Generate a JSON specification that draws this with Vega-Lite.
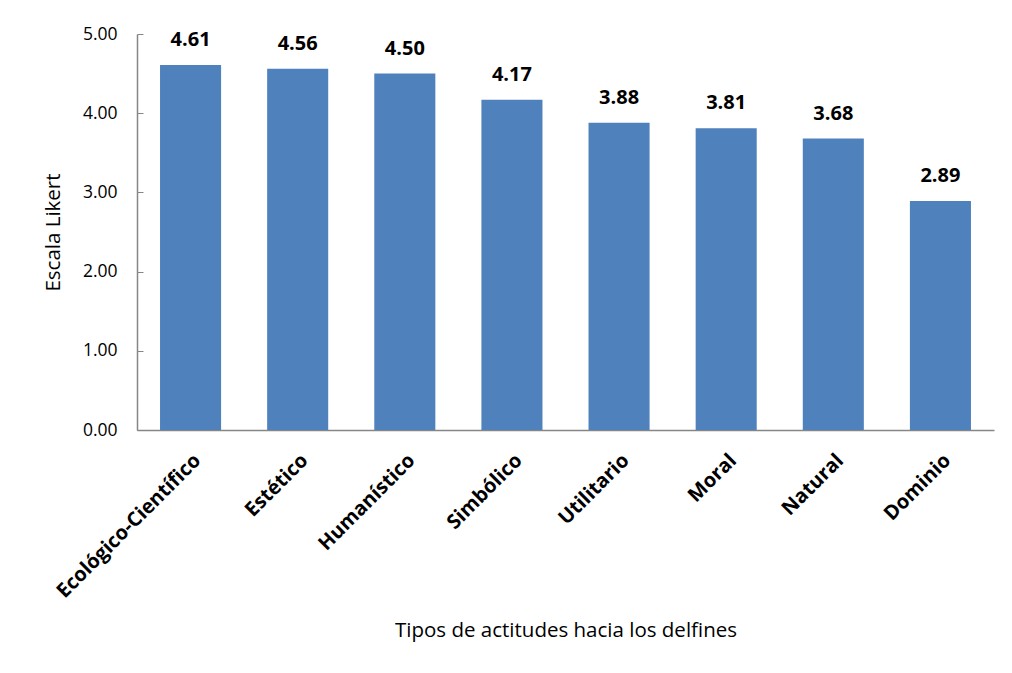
{
  "$schema": "https://vega.github.io/schema/vega-lite/v6.json",
  "width": 857,
  "height": 396,
  "autosize": {"type": "none"},
  "padding": {"left": 137, "top": 34, "right": 18, "bottom": 243},
  "background": "white",
  "config": {
    "view": {"stroke": null},
    "font": "Open Sans"
  },
  "data": {
    "values": [
      {"tipo": "Ecológico-Científico", "valor": 4.61},
      {"tipo": "Estético", "valor": 4.56},
      {"tipo": "Humanístico", "valor": 4.50},
      {"tipo": "Simbólico", "valor": 4.17},
      {"tipo": "Utilitario", "valor": 3.88},
      {"tipo": "Moral", "valor": 3.81},
      {"tipo": "Natural", "valor": 3.68},
      {"tipo": "Dominio", "valor": 2.89}
    ]
  },
  "encoding": {
    "x": {
      "field": "tipo",
      "type": "nominal",
      "sort": null,
      "scale": {"paddingInner": 0.43, "paddingOuter": 0.215},
      "axis": {
        "title": "Tipos de actitudes hacia los delfines",
        "titleFont": "Open Sans",
        "titleFontSize": 20.5,
        "titleFontWeight": "normal",
        "titleColor": "black",
        "titleY": 200,
        "titleBaseline": "middle",
        "labelAngle": -45,
        "labelAlign": "right",
        "labelBaseline": "top",
        "labelFont": "Open Sans",
        "labelFontSize": 20,
        "labelFontWeight": "bold",
        "labelColor": "black",
        "labelPadding": 20,
        "labelLimit": 400,
        "ticks": false,
        "domainColor": "#868686",
        "domainWidth": 1.5
      }
    },
    "y": {
      "field": "valor",
      "type": "quantitative",
      "scale": {"domain": [0, 5], "nice": false},
      "axis": {
        "title": "Escala Likert",
        "titleFont": "Open Sans",
        "titleFontSize": 20.5,
        "titleFontWeight": "normal",
        "titleColor": "black",
        "titleX": -84,
        "titleY": 198,
        "titleAlign": "center",
        "titleBaseline": "middle",
        "values": [0, 1, 2, 3, 4, 5],
        "format": ".2f",
        "grid": false,
        "labelFont": "Open Sans",
        "labelFontSize": 17.5,
        "labelColor": "black",
        "tickSize": -6,
        "tickColor": "#868686",
        "labelPadding": 26,
        "domainColor": "#868686",
        "domainWidth": 1.5
      }
    }
  },
  "layer": [
    {"mark": {"type": "bar", "color": "#4F81BD"}},
    {
      "mark": {"type": "text", "dy": -25, "baseline": "middle", "fontSize": 20, "fontWeight": "bold", "color": "black", "font": "Open Sans"},
      "encoding": {"text": {"field": "valor", "type": "quantitative", "format": ".2f"}}
    }
  ]
}
